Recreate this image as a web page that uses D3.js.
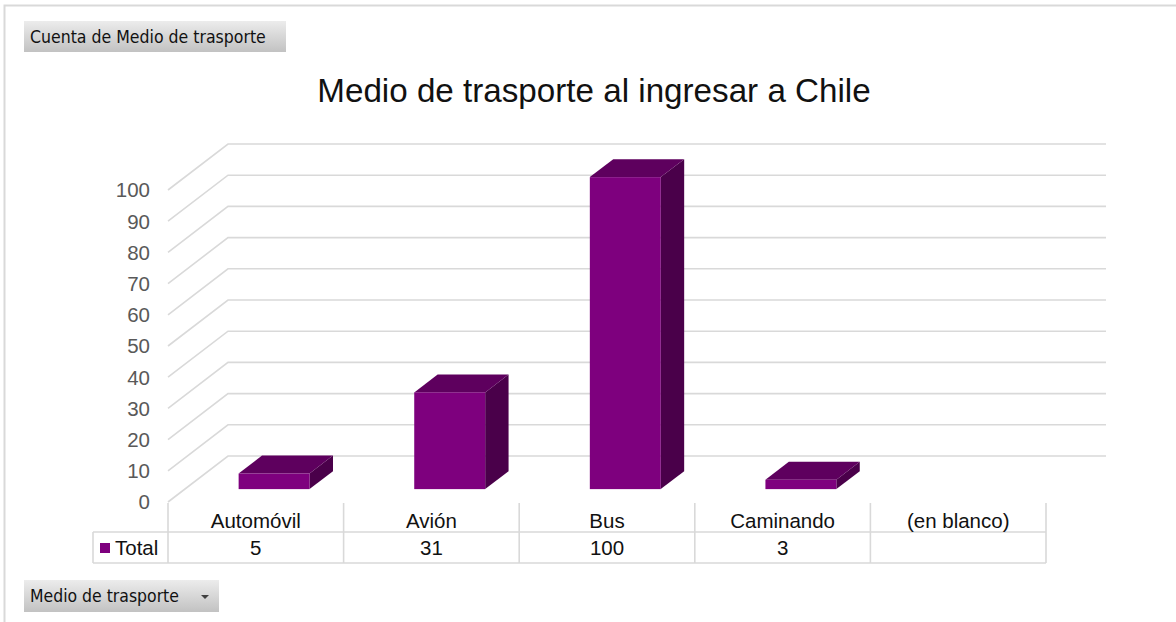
<!DOCTYPE html>
<html>
<head>
<meta charset="utf-8">
<script src="https://cdn.jsdelivr.net/npm/d3@7/dist/d3.min.js"></script>
<style>
  html, body { margin: 0; padding: 0; background: #fff; }
  svg { display: block; }
</style>
</head>
<body>
<svg id="chart" width="1176" height="622"></svg>
<script>
// ---- Data ----
const categories = ["Automóvil", "Avión", "Bus", "Caminando", "(en blanco)"];
const values = [5, 31, 100, 3, null];
const yTicks = [0, 10, 20, 30, 40, 50, 60, 70, 80, 90, 100];
const seriesName = "Total";
const chartTitle = "Medio de trasporte al ingresar a Chile";
const topButtonLabel = "Cuenta de Medio de trasporte";
const bottomButtonLabel = "Medio de trasporte";

// ---- Layout ----
const svg = d3.select("#chart");
const W = 1176, H = 622;
const depthX = 60, depthY = -46;     // full depth offset of the 3D box
const barFront = 0.28, barBack = 0.67; // bar depth fractions
const colors = { front: "#7e007e", top: "#5e005e", side: "#4a004a" };

const x = d3.scaleBand().domain(categories).range([169.5, 1047.5]).paddingInner(0.596).paddingOuter(0.298);
const tableX = d3.scaleBand().domain(categories).range([168, 1046]).padding(0);
const y = d3.scaleLinear().domain([0, 100]).range([502, 190]);

// defs for button gradient
const defs = svg.append("defs");
const grad = defs.append("linearGradient").attr("id", "btnGrad").attr("x1", 0).attr("y1", 0).attr("x2", 0).attr("y2", 1);
grad.append("stop").attr("offset", "0%").attr("stop-color", "#ececec");
grad.append("stop").attr("offset", "100%").attr("stop-color", "#c2c2c2");

// outer border
svg.append("path")
  .attr("d", `M4.5,${H} L4.5,5.5 L${W},5.5`)
  .attr("fill", "none").attr("stroke", "#d9d9d9").attr("stroke-width", 2);

// title
svg.append("text")
  .attr("x", 594).attr("y", 102)
  .attr("text-anchor", "middle")
  .attr("font-family", "'Liberation Sans', Arial, sans-serif")
  .attr("font-size", 33.2)
  .attr("fill", "#111")
  .text(chartTitle);

// gridlines (floor diagonal + back wall)
const grid = svg.append("g").attr("fill", "none").attr("stroke", "#d9d9d9").attr("stroke-width", 1.6);
yTicks.forEach(t => {
  const fy = y(t);
  grid.append("path").attr("d", `M168,${fy} L${168 + depthX},${fy + depthY} L${1046 + depthX},${fy + depthY}`);
});

// y axis labels
svg.append("g").selectAll("text").data(yTicks).join("text")
  .attr("x", 150).attr("y", d => y(d))
  .attr("dy", "0.36em")
  .attr("text-anchor", "end")
  .attr("font-family", "'Liberation Sans', Arial, sans-serif")
  .attr("font-size", 20.5)
  .attr("fill", "#595959")
  .text(d => d);

// 3D bars
const bars = svg.append("g");
categories.forEach((c, i) => {
  const v = values[i];
  if (v == null) return;
  const x0 = x(c), x1 = x(c) + x.bandwidth();
  const ox1 = depthX * barFront, oy1 = depthY * barFront;
  const ox2 = depthX * barBack, oy2 = depthY * barBack;
  const yb = y(0), yt = y(v);
  const fl = x0 + ox1, fr = x1 + ox1;
  const fb = yb + oy1, ft = yt + oy1;
  const bl = x0 + ox2, br = x1 + ox2;
  const bt = yt + oy2, bb = yb + oy2;
  bars.append("path").attr("d", `M${fr},${fb} L${fr},${ft} L${br},${bt} L${br},${bb} Z`).attr("fill", colors.side);
  bars.append("path").attr("d", `M${fl},${ft} L${fr},${ft} L${br},${bt} L${bl},${bt} Z`).attr("fill", colors.top);
  bars.append("rect").attr("x", fl).attr("y", ft).attr("width", fr - fl).attr("height", fb - ft).attr("fill", colors.front);
});

// data table
const tbl = svg.append("g").attr("stroke", "#d9d9d9").attr("stroke-width", 1.6).attr("fill", "none");
const tEnd = 1046, rTop = 503, rMid = 532, rBot = 563, tLeft = 93;
categories.forEach(c => {
  tbl.append("line").attr("x1", tableX(c)).attr("x2", tableX(c)).attr("y1", rTop).attr("y2", rBot);
});
tbl.append("line").attr("x1", tEnd).attr("x2", tEnd).attr("y1", rTop).attr("y2", rBot);
tbl.append("line").attr("x1", tLeft).attr("x2", tEnd).attr("y1", rMid).attr("y2", rMid);
tbl.append("line").attr("x1", tLeft).attr("x2", tEnd).attr("y1", rBot).attr("y2", rBot);
tbl.append("line").attr("x1", tLeft).attr("x2", tLeft).attr("y1", rMid).attr("y2", rBot);

const txt = svg.append("g")
  .attr("font-family", "'Liberation Sans', Arial, sans-serif")
  .attr("font-size", 20.5).attr("fill", "#111").attr("text-anchor", "middle");
categories.forEach((c, i) => {
  const cx = tableX(c) + tableX.bandwidth() / 2;
  txt.append("text").attr("x", cx).attr("y", 528).text(c);
  if (values[i] != null) txt.append("text").attr("x", cx).attr("y", 555).text(values[i]);
});
svg.append("rect").attr("x", 100).attr("y", 543).attr("width", 10).attr("height", 10).attr("fill", colors.front);
svg.append("text").attr("x", 115).attr("y", 555)
  .attr("font-family", "'Liberation Sans', Arial, sans-serif")
  .attr("font-size", 20.5).attr("fill", "#111").text(seriesName);

// buttons
function button(x0, y0, w, h, label, textW, arrow) {
  const g = svg.append("g");
  g.append("rect").attr("x", x0).attr("y", y0).attr("width", w).attr("height", h).attr("fill", "url(#btnGrad)");
  const t = g.append("text").attr("x", x0 + 6).attr("y", y0 + h / 2).attr("dy", "0.35em")
    .attr("font-family", "'DejaVu Sans Condensed', 'DejaVu Sans', sans-serif")
    .attr("font-size", 16).attr("fill", "#111").text(label);
  const len = t.node().getComputedTextLength();
  t.attr("font-size", 16 * textW / len);
  if (arrow) {
    g.append("path").attr("d", `M${x0 + w - 18},${y0 + 15} l8,0 l-4,4 Z`).attr("fill", "#404040");
  }
}
button(24, 21, 262, 31, topButtonLabel, 236, false);
button(24, 580, 195, 32, bottomButtonLabel, 149, true);
</script>
</body>
</html>
